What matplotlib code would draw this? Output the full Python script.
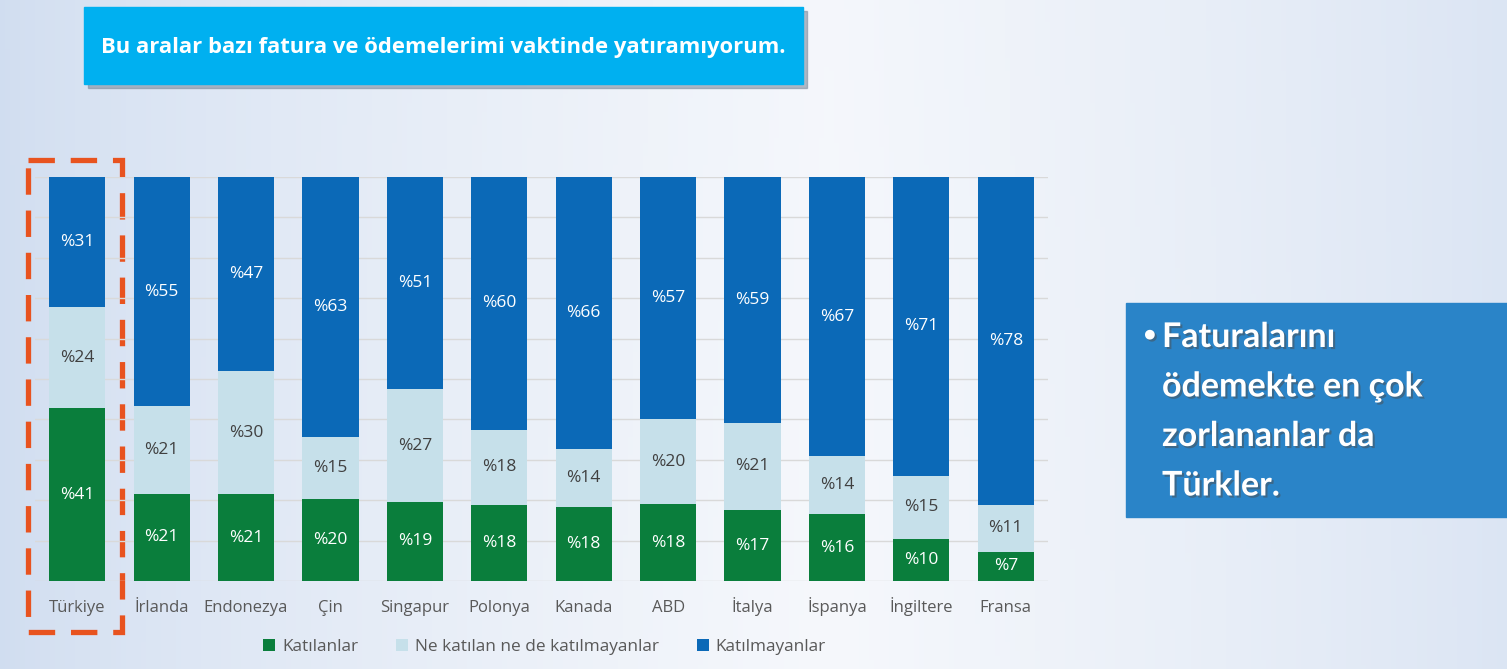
import numpy as np
import matplotlib
matplotlib.use('Agg')
import matplotlib.pyplot as plt
from matplotlib.patches import Rectangle
import matplotlib.patheffects as pe

countries = ['Türkiye', 'İrlanda', 'Endonezya', 'Çin', 'Singapur', 'Polonya',
             'Kanada', 'ABD', 'İtalya', 'İspanya', 'İngiltere', 'Fransa']
katilanlar = [41, 21, 21, 20, 19, 18, 18, 18, 17, 16, 10, 7]
notr = [24, 21, 30, 15, 27, 18, 14, 20, 21, 14, 15, 11]
katilmayanlar = [31, 55, 47, 63, 51, 60, 66, 57, 59, 67, 71, 78]
series_names = ['Katılanlar', 'Ne katılan ne de katılmayanlar', 'Katılmayanlar']
colors = ['#0a7e3c', '#c6e0ea', '#0b69b7']
label_colors = ['white', '#404040', 'white']

title = 'Bu aralar bazı fatura ve ödemelerimi vaktinde yatıramıyorum.'
note_lines = ['Faturalarını', 'ödemekte en çok', 'zorlananlar da', 'Türkler.']

W, H = 1507, 669
fig = plt.figure(figsize=(W / 100, H / 100), dpi=100)

# background gradient
bg = fig.add_axes([0, 0, 1, 1])
xx = np.linspace(0, 1, 300)
yy = np.linspace(0, 1, 150)
X, Y = np.meshgrid(xx, yy)
t = np.clip(1 - np.abs(X - 0.55) / 0.55, 0, 1) ** 0.7
base = np.array([208, 221, 240]) / 255
light = np.array([246, 248, 252]) / 255
img = base[None, None, :] * (1 - t[..., None]) + light[None, None, :] * t[..., None]
img = img * (1 - 0.05 * Y[..., None]) + 0.05 * Y[..., None] * np.array([0.85, 0.89, 0.95])
bg.imshow(img, extent=[0, W, 0, H], aspect='auto', origin='upper')
bg.set_xlim(0, W)
bg.set_ylim(H, 0)
bg.axis('off')

# title box
bg.add_patch(Rectangle((88, 11), 719, 77, color='#7f8ea0', alpha=0.6, zorder=2))
bg.add_patch(Rectangle((84, 7), 719, 77, color='#00b0f0', zorder=3))
bg.text(443, 47, title, color='white', fontsize=15.8, fontweight='bold',
        family='Open Sans', ha='center', va='center', zorder=4)

# right note box
shadow = [pe.withSimplePatchShadow(offset=(1.5, -1.5), alpha=0.5)]
bg.add_patch(Rectangle((1126, 303), 381, 214, color='#2a84c8', zorder=3))
bg.text(1141, 337, '•', color='white', fontsize=20, fontweight='bold',
        family='DejaVu Sans', ha='left', va='center', zorder=4, path_effects=shadow)
for k, line in enumerate(note_lines):
    bg.text(1162, 337 + k * 49.5, line, color='white', fontsize=24.5, fontweight='bold',
            family='Lato', ha='left', va='center', zorder=4, path_effects=shadow)

# dashed highlight around first bar
bg.add_patch(Rectangle((28, 160), 94, 472, fill=False, edgecolor='#e8531f',
                       lw=3.8, linestyle=(0, (5, 3)), zorder=5))

ax = fig.add_axes([35 / W, 1 - 581 / H, 1013 / W, 404 / H])
ax.patch.set_alpha(0)

data = np.array([katilanlar, notr, katilmayanlar], dtype=float)
pct = data / data.sum(axis=0) * 100
x = np.arange(len(countries))
bottom = np.zeros(len(countries))
for i in range(3):
    ax.bar(x, pct[i], 0.665, bottom=bottom, color=colors[i], label=series_names[i], zorder=3)
    for j in range(len(countries)):
        ax.text(x[j], bottom[j] + pct[i][j] / 2, '%' + str(int(data[i][j])),
                ha='center', va='center', color=label_colors[i], fontsize=12.5,
                family='Open Sans', zorder=4)
    bottom += pct[i]

ax.set_xlim(-0.5, len(countries) - 0.5)
ax.set_ylim(0, 100)
ax.set_yticks(np.arange(0, 101, 10))
ax.yaxis.grid(True, color='#d9d9d9', lw=1, zorder=0)
ax.tick_params(axis='y', left=False, labelleft=False)
ax.tick_params(axis='x', length=0, pad=22, labelsize=12, colors='#595959')
ax.set_xticks(x)
ax.set_xticklabels(countries, family='Open Sans')
for lab in ax.get_xticklabels():
    lab.set_verticalalignment('baseline')
for s in ax.spines.values():
    s.set_visible(False)

leg = ax.legend(loc='upper center', bbox_to_anchor=(0.503, -0.105), ncol=3, frameon=False,
                prop={'family': 'Open Sans', 'size': 12.4}, handlelength=0.7,
                handleheight=0.7, columnspacing=2.2, handletextpad=0.4)
for t_ in leg.get_texts():
    t_.set_color('#595959')

fig.savefig('out.png', dpi=100)
